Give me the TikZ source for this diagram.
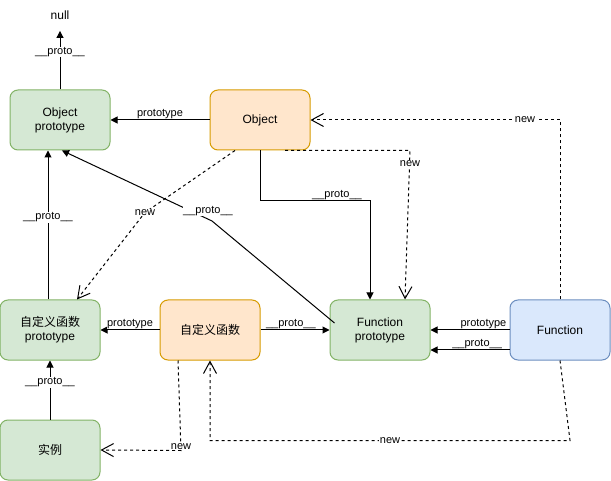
\documentclass[tikz,border=0pt]{standalone}
\usepackage{fontspec}
\setmainfont{Liberation Sans}
\newfontfamily\cjk{Noto Sans CJK SC}
\usetikzlibrary{arrows.meta,positioning}
\definecolor{gFill}{HTML}{D5E8D4}
\definecolor{gLine}{HTML}{82B366}
\definecolor{oFill}{HTML}{FFE6CC}
\definecolor{oLine}{HTML}{D79B00}
\definecolor{bFill}{HTML}{DAE8FC}
\definecolor{bLine}{HTML}{6C8EBF}
\tikzset{
    box/.style={rectangle, rounded corners=8pt, minimum width=100pt, minimum height=60pt,
        inner sep=0pt, align=center, line width=1pt, font=\fontsize{12}{14}\selectfont},
    gbox/.style={box, draw=gLine, fill=gFill},
    obox/.style={box, draw=oLine, fill=oFill},
    bbox/.style={box, draw=bLine, fill=bFill},
    lbl/.style={fill=white, inner sep=0.5pt, font=\fontsize{11}{13}\selectfont},
    proto/.style={line width=1pt, -{Triangle[length=7pt,width=7pt]}},
    newln/.style={line width=1pt, dash pattern=on 3pt off 3pt, -{Straight Barb[length=12pt,width=13pt]}}
}

\begin{document}
\begin{tikzpicture}[x=1pt,y=-1pt]
\useasboundingbox (0,0) rectangle (611,481);
% boxes
\node[font=\fontsize{12}{14}\selectfont] (null) at (60,15) {null};
\node[gbox] (objproto) at (60,120) {Object\\prototype};
\node[obox] (obj) at (260,120) {Object};
\node[gbox] (cproto) at (50,330) {{\cjk 自定义函数}\\prototype};
\node[obox] (cfn) at (210,330) {\cjk 自定义函数};
\node[gbox] (fnproto) at (380,330) {Function\\prototype};
\node[bbox] (fn) at (560,330) {Function};
\node[gbox] (inst) at (50,450) {\cjk 实例};
% __proto__ and prototype links
\draw[proto] (objproto) -- node[lbl,pos=0.64] {\_\_proto\_\_} ([yshift=-8pt]null.south);
\draw[proto] (obj) -- node[lbl,above] {prototype} (objproto);
\draw[proto] (obj.south) -- ++(0,50) -| node[lbl,above,pos=0.35] {\_\_proto\_\_} ([xshift=-10pt]fnproto.north);
\draw[proto] ([shift={(5,-7)}]fnproto.west) -- (212,221)
    node[lbl,xshift=-4pt,yshift=10pt] {\_\_proto\_\_} -- ([xshift=2pt]objproto.south);
\draw[proto] ([xshift=-2pt]cproto.north) -- node[lbl,pos=0.55] {\_\_proto\_\_} ([xshift=-12pt]objproto.south);
\draw[proto] (cfn) -- node[lbl,above] {prototype} (cproto);
\draw[proto] (cfn) -- node[lbl,above,pos=0.44] {\_\_proto\_\_} (fnproto);
\draw[proto] (fn) -- node[lbl,above,pos=0.33] {prototype} (fnproto);
\draw[proto] ([yshift=-20pt]fn.west) -- node[lbl,above,pos=0.41] {\_\_proto\_\_} ([yshift=-20pt]fnproto.east);
\draw[proto] (inst) -- node[lbl,pos=0.63] {\_\_proto\_\_} (cproto);
% new links
\draw[newln] ([xshift=25pt]obj.south) -- ++(125,0) node[lbl,yshift=-13pt] {new} -- ([xshift=25pt]fnproto.north);
\draw[newln] ([xshift=-25pt]obj.south) -- ++(-90,62) node[lbl] {new} -- ([xshift=27pt]cproto.north);
\draw[newln] (fn.north) |- node[lbl,pos=0.57] {new} (obj.east);
\draw[newln] (fn.south) -- ++(10,80) -| node[lbl,pos=0.25] {new} (cfn.south);
\draw[newln] ([xshift=-32pt]cfn.south) -- ++(3,90) node[lbl,yshift=4pt] {new} -- (inst.east);
\end{tikzpicture}
\end{document}
